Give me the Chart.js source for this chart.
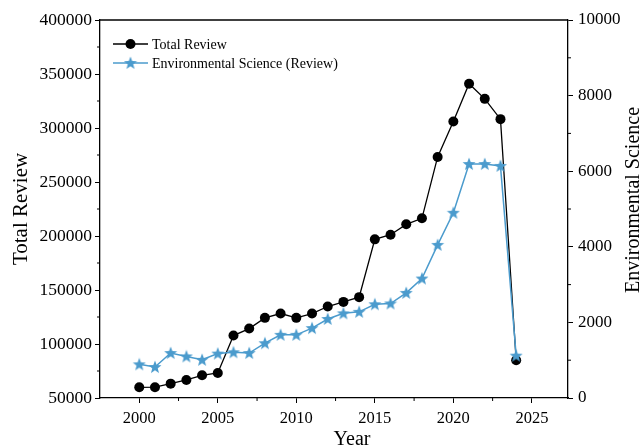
<!DOCTYPE html>
<html>
<head>
<meta charset="utf-8">
<script src="https://cdn.jsdelivr.net/npm/chart.js@4.4.1/dist/chart.umd.min.js"></script>
<style>
  html, body { margin: 0; padding: 0; background: #fff; }
</style>
</head>
<body>
<canvas id="chart" width="640" height="445"></canvas>
<script>
const years = [2000, 2001, 2002, 2003, 2004, 2005, 2006, 2007, 2008, 2009, 2010, 2011, 2012,
  2013, 2014, 2015, 2016, 2017, 2018, 2019, 2020, 2021, 2022, 2023, 2024];
const totalReview = [59900, 60000, 63300, 66700, 71000, 73200, 107800, 114300, 124200, 128200,
  124200, 128200, 134700, 139000, 143400, 196900, 201200, 210800, 216400, 273200, 306000,
  341000, 327000, 308200, 84900];
const envScience = [890, 820, 1190, 1100, 1010, 1175, 1210, 1190, 1450, 1670, 1670, 1850, 2090,
  2240, 2280, 2480, 2500, 2780, 3160, 4050, 4900, 6190, 6190, 6140, 1120];

const xTicks = [2000, 2005, 2010, 2015, 2020, 2025];
const xMinor = [2002.5, 2007.5, 2012.5, 2017.5, 2022.5];
const leftTicks = [50000, 100000, 150000, 200000, 250000, 300000, 350000, 400000];
const leftMinor = [75000, 125000, 175000, 225000, 275000, 325000, 375000];
const rightTicks = [0, 2000, 4000, 6000, 8000, 10000];
const rightMinor = [1000, 3000, 5000, 7000, 9000];

const BLUE = '#4b9bcd';
const SERIF = '"Liberation Serif", "Times New Roman", serif';

// filled five-point star, Chart.js only ships an asterisk-like 'star'
function makeStar(color) {
  const c = document.createElement('canvas');
  c.width = 14; c.height = 14;
  const g = c.getContext('2d');
  g.fillStyle = color;
  g.beginPath();
  for (let i = 0; i < 10; i++) {
    const r = i % 2 === 0 ? 6.8 : 2.9;
    const a = -Math.PI / 2 + i * Math.PI / 5;
    const px = 7 + r * Math.cos(a), py = 7.4 + r * Math.sin(a);
    if (i === 0) g.moveTo(px, py); else g.lineTo(px, py);
  }
  g.closePath();
  g.fill();
  return c;
}
const starImg = makeStar(BLUE);

const fixTicks = (list) => (scale) => { scale.ticks = list.map(v => ({ value: v })); };

const frame = {
  id: 'frame',
  afterDraw(chart) {
    const ctx = chart.ctx;
    const { left, right, top, bottom } = chart.chartArea;
    const sx = chart.scales.x, sl = chart.scales.y, sr = chart.scales.y2;
    ctx.save();
    ctx.strokeStyle = '#000';
    ctx.lineWidth = 1.3;
    ctx.beginPath();
    ctx.moveTo(left, top); ctx.lineTo(right, top);
    ctx.stroke();
    ctx.lineWidth = 1;
    ctx.beginPath();
    xMinor.forEach(v => { const p = sx.getPixelForValue(v); ctx.moveTo(p, bottom); ctx.lineTo(p, bottom + 3); });
    leftMinor.forEach(v => { const p = sl.getPixelForValue(v); ctx.moveTo(left, p); ctx.lineTo(left - 3, p); });
    rightMinor.forEach(v => { const p = sr.getPixelForValue(v); ctx.moveTo(right, p); ctx.lineTo(right + 3, p); });
    ctx.stroke();

    // axis titles
    ctx.fillStyle = '#000';
    ctx.font = '20px ' + SERIF;
    ctx.textAlign = 'center';
    ctx.textBaseline = 'alphabetic';
    ctx.fillText('Year', 352, 445);
    ctx.save();
    ctx.translate(27, 209);
    ctx.rotate(-Math.PI / 2);
    ctx.font = '21px ' + SERIF;
    ctx.fillText('Total Review', 0, 0);
    ctx.restore();
    ctx.save();
    ctx.translate(639, 200);
    ctx.rotate(-Math.PI / 2);
    ctx.fillText('Environmental Science', 0, 0);
    ctx.restore();

    // legend
    ctx.font = '14px ' + SERIF;
    ctx.textAlign = 'left';
    ctx.textBaseline = 'middle';
    chart.data.datasets.forEach((ds, i) => {
      const y = 44 + i * 19;
      ctx.strokeStyle = ds.borderColor;
      ctx.lineWidth = ds.borderWidth;
      ctx.beginPath();
      ctx.moveTo(113, y); ctx.lineTo(148, y);
      ctx.stroke();
      ctx.fillStyle = ds.pointBackgroundColor;
      Chart.helpers.drawPoint(ctx, { pointStyle: ds.pointStyle, radius: ds.pointRadius, rotation: 0, borderWidth: 0 }, 130.5, y);
      ctx.fillStyle = '#000';
      ctx.fillText(ds.label, 152, y + 1);
    });
    ctx.restore();
  }
};

new Chart(document.getElementById('chart'), {
  type: 'line',
  data: {
    datasets: [
      {
        label: 'Total Review',
        data: years.map((y, i) => ({ x: y, y: totalReview[i] })),
        yAxisID: 'y',
        borderColor: '#000',
        borderWidth: 1.3,
        pointStyle: 'circle',
        pointRadius: 5,
        pointBackgroundColor: '#000',
        pointBorderWidth: 0,
        order: 1
      },
      {
        label: 'Environmental Science (Review)',
        data: years.map((y, i) => ({ x: y, y: envScience[i] })),
        yAxisID: 'y2',
        borderColor: BLUE,
        borderWidth: 1.5,
        pointStyle: starImg,
        pointRadius: 6,
        pointBackgroundColor: BLUE,
        pointBorderWidth: 0,
        order: 0
      }
    ]
  },
  options: {
    responsive: false,
    animation: false,
    layout: { padding: { top: 20 } },
    plugins: { legend: { display: false }, tooltip: { enabled: false } },
    scales: {
      x: {
        type: 'linear',
        min: 1997.5,
        max: 2027.3,
        afterBuildTicks: fixTicks(xTicks),
        afterFit: (s) => { s.height = 47; },
        grid: { drawOnChartArea: false, tickLength: 5, color: '#000', tickWidth: 1 },
        border: { color: '#000', width: 1.3 },
        ticks: { color: '#000', font: { family: SERIF, size: 16.5 }, padding: 6, maxRotation: 0, callback: v => String(v) }
      },
      y: {
        position: 'left',
        min: 50000,
        max: 400000,
        afterBuildTicks: fixTicks(leftTicks),
        afterFit: (s) => { s.width = 100; },
        grid: { drawOnChartArea: false, tickLength: 5, color: '#000', tickWidth: 1 },
        border: { color: '#000', width: 1.3 },
        ticks: { color: '#000', font: { family: SERIF, size: 17.5 }, padding: 3, callback: v => String(v) }
      },
      y2: {
        position: 'right',
        min: 0,
        max: 10000,
        afterBuildTicks: fixTicks(rightTicks),
        afterFit: (s) => { s.width = 72; },
        grid: { drawOnChartArea: false, tickLength: 5, color: '#000', tickWidth: 1 },
        border: { color: '#000', width: 1.3 },
        ticks: { color: '#000', font: { family: SERIF, size: 17 }, padding: 5, callback: v => String(v) }
      }
    }
  },
  plugins: [frame]
});
</script>
</body>
</html>
